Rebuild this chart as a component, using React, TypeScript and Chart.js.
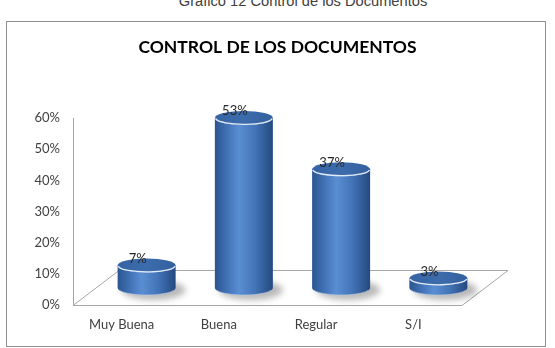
import React, { useEffect, useRef } from 'react';
import { Chart, registerables } from 'chart.js';

Chart.register(...registerables);

const caption = 'Gráfico 12 Control de los Documentos';
const chartTitle = 'CONTROL DE LOS DOCUMENTOS';
const categories = ['Muy Buena', 'Buena', 'Regular', 'S/I'];
const percentages = [7, 53, 37, 3];
const yTickMin = 0;
const yTickMax = 60;
const yTickStep = 10;

const FONT = 'Lato, "Open Sans", sans-serif';
const DEPTH_X = 46;
const DEPTH_Y = 35;

const cylinderPlugin = {
  id: 'cylinders',
  beforeDatasetsDraw(chart: any) {
    const { ctx, chartArea } = chart;
    const { left, right, bottom } = chartArea;
    ctx.save();
    ctx.strokeStyle = '#A6A6A6';
    ctx.lineWidth = 1;
    ctx.beginPath();
    ctx.moveTo(left, bottom + 0.5);
    ctx.lineTo(right, bottom + 0.5);
    ctx.lineTo(right + DEPTH_X, bottom - DEPTH_Y + 0.5);
    ctx.lineTo(left + DEPTH_X, bottom - DEPTH_Y + 0.5);
    ctx.closePath();
    ctx.stroke();
    ctx.restore();
  },
  afterDatasetsDraw(chart: any) {
    const { ctx } = chart;
    const meta = chart.getDatasetMeta(0);
    const ry = 7;
    meta.data.forEach((el: any) => {
      const rx = el.width / 2;
      ctx.save();
      ctx.filter = 'blur(3px)';
      ctx.fillStyle = 'rgba(0,0,0,0.28)';
      ctx.beginPath();
      ctx.ellipse(el.x + 7, el.base + 2, rx + 3, ry + 3, 0, 0, Math.PI * 2);
      ctx.fill();
      ctx.restore();
    });
    meta.data.forEach((el: any) => {
      const rx = el.width / 2;
      const cx = el.x;
      const top = el.y;
      const base = el.base;
      ctx.save();
      const g = ctx.createLinearGradient(cx - rx, 0, cx + rx, 0);
      g.addColorStop(0, '#2A5590');
      g.addColorStop(0.25, '#4677BC');
      g.addColorStop(0.42, '#5A8ED2');
      g.addColorStop(0.7, '#4273B6');
      g.addColorStop(1, '#24497F');
      ctx.fillStyle = g;
      ctx.beginPath();
      ctx.moveTo(cx - rx, top);
      ctx.lineTo(cx - rx, base);
      ctx.ellipse(cx, base, rx, ry, 0, Math.PI, 0, true);
      ctx.lineTo(cx + rx, top);
      ctx.ellipse(cx, top, rx, ry, 0, 0, Math.PI, false);
      ctx.closePath();
      ctx.fill();
      ctx.strokeStyle = 'rgba(200,215,240,0.5)';
      ctx.lineWidth = 1;
      ctx.beginPath();
      ctx.ellipse(cx, base, rx - 0.5, ry, 0, Math.PI * 0.9, Math.PI * 0.1, true);
      ctx.stroke();
      const tg = ctx.createLinearGradient(cx - rx, 0, cx + rx, 0);
      tg.addColorStop(0, '#3563A3');
      tg.addColorStop(0.5, '#3D6CAC');
      tg.addColorStop(1, '#33609F');
      ctx.fillStyle = tg;
      ctx.beginPath();
      ctx.ellipse(cx, top, rx, ry, 0, 0, Math.PI * 2);
      ctx.fill();
      ctx.strokeStyle = 'rgba(235,242,252,0.95)';
      ctx.lineWidth = 1.3;
      ctx.beginPath();
      ctx.ellipse(cx, top, rx - 0.6, ry - 0.6, 0, Math.PI * 0.97, Math.PI * 0.03, true);
      ctx.stroke();
      ctx.restore();
    });
    ctx.save();
    ctx.font = `13px ${FONT}`;
    ctx.fillStyle = '#262626';
    ctx.textAlign = 'center';
    ctx.textBaseline = 'middle';
    meta.data.forEach((el: any, i: number) => {
      ctx.fillText(`${percentages[i]}%`, el.x - 9, el.y - 7);
    });
    ctx.restore();
  },
};

export default function App() {
  const ref = useRef<HTMLCanvasElement | null>(null);

  useEffect(() => {
    if (!ref.current) return;
    const chart = new Chart(ref.current, {
      type: 'bar',
      data: {
        labels: categories,
        datasets: [
          {
            data: percentages.map((v, i) => ({ x: i, y: v })),
            xAxisID: 'xb',
            yAxisID: 'yb',
            backgroundColor: 'rgba(0,0,0,0)',
            borderWidth: 0,
            barThickness: 58,
          } as any,
        ],
      },
      options: {
        animation: false,
        responsive: false,
        maintainAspectRatio: false,
        layout: { padding: 0 },
        plugins: {
          legend: { display: false },
          tooltip: { enabled: false },
          title: {
            display: true,
            text: chartTitle,
            color: '#000',
            font: { family: FONT, size: 17.5, weight: 'bold', lineHeight: 1.2 },
            padding: { top: 36.5, bottom: 60.5 },
          },
        },
        scales: {
          x: {
            type: 'category',
            labels: categories,
            offset: true,
            grid: { display: false },
            border: { display: false },
            ticks: { padding: 4, color: '#404040', font: { family: FONT, size: 13 } },
            afterFit: (s: any) => {
              s.height = 43;
            },
          },
          y: {
            type: 'linear',
            min: yTickMin,
            max: yTickMax,
            grid: { display: false },
            border: { display: true, color: '#A6A6A6' },
            ticks: {
              stepSize: yTickStep,
              padding: 5,
              color: '#404040',
              font: { family: FONT, size: 13 },
              callback: (v: any) => `${v}%`,
            },
            afterFit: (s: any) => {
              s.width = 73;
            },
          },
          xb: { type: 'linear', display: false, offset: false, min: -0.757, max: 3.243 },
          yb: {
            type: 'linear',
            position: 'right',
            display: true,
            min: -5.3,
            max: 53,
            grid: { display: false },
            border: { display: false },
            ticks: { display: false },
            afterFit: (s: any) => {
              s.width = 93;
            },
          },
        } as any,
      },
      plugins: [cylinderPlugin],
    });
    return () => chart.destroy();
  }, []);

  return (
    <div style={{ position: 'absolute', left: 0, top: 0, width: 555, height: 348, background: '#fff', overflow: 'hidden' }}>
      <div
        style={{
          position: 'absolute',
          left: 0,
          width: 606,
          top: -7.5,
          textAlign: 'center',
          fontFamily: '"Liberation Sans", Arial, sans-serif',
          fontSize: '14.67px',
          lineHeight: '17px',
          color: '#404040',
          whiteSpace: 'nowrap',
        }}
      >
        {caption}
      </div>
      <div
        style={{
          position: 'absolute',
          left: 6,
          top: 21,
          width: 538,
          height: 324,
          border: '1px solid #8E8E8E',
        }}
      />
      <canvas ref={ref} width={555} height={348} style={{ position: 'absolute', left: 0, top: 0 }} />
    </div>
  );
}
